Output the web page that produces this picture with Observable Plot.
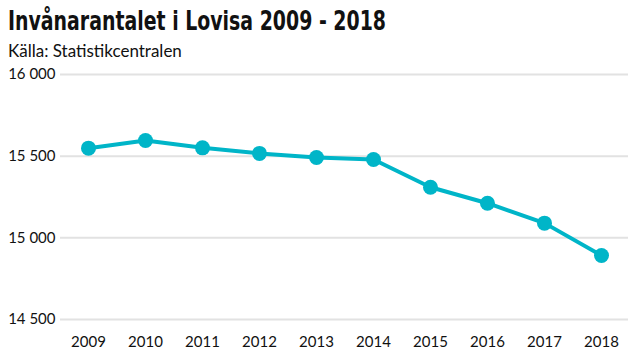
<!DOCTYPE html>
<html><head><meta charset="utf-8">
<script src="https://cdn.jsdelivr.net/npm/d3@7"></script>
<script src="https://cdn.jsdelivr.net/npm/@observablehq/plot@0.6"></script>
<style>
body{margin:0;background:#fff;width:640px;height:360px;overflow:hidden;font-family:Lato,"Open Sans",sans-serif;}
#title{position:absolute;left:8px;top:5px;font-family:"DejaVu Sans Condensed","DejaVu Sans",sans-serif;font-stretch:condensed;font-weight:bold;font-size:27px;color:#111;white-space:nowrap;transform-origin:0 0;}
#sub{position:absolute;left:8px;top:40px;font-size:17px;color:#111;}
#chart{position:absolute;left:0;top:62px;}
</style></head><body>
<div id="title">Invånarantalet i Lovisa 2009 - 2018</div>
<div id="sub">Källa: Statistikcentralen</div>
<div id="chart"></div>
<script>
const years = ["2009","2010","2011","2012","2013","2014","2015","2016","2017","2018"];
const population = [15549,15596,15551,15517,15492,15480,15310,15212,15090,14892];
const yTicks = [14500,15000,15500,16000];

const data = years.map((y,i)=>({year:y, value:population[i]}));
const fmt = d => d3.format(",")(d).replace(/,/g," ");

// fit title to the reference's width
const t = document.getElementById("title");
const w = t.getBoundingClientRect().width;
if (w > 0) t.style.transform = `scaleX(${378 / w})`;

const chart = Plot.plot({
  width:640, height:298,
  marginTop:12, marginBottom:41, marginLeft:60, marginRight:12,
  style:{fontFamily:"Lato, 'Open Sans', sans-serif", fontSize:"15px", color:"#111", background:"#fff"},
  x:{type:"point", domain:years, padding:0.48, label:null},
  y:{domain:[14500,16000], label:null},
  marks:[
    Plot.ruleY(yTicks,{stroke:"#e2e2e2", strokeWidth:2}),
    Plot.axisY(yTicks,{tickFormat:fmt, tickSize:0, tickPadding:5, fontSize:15, label:null}),
    Plot.axisX(years,{tickSize:0, tickPadding:17, fontSize:15, label:null}),
    Plot.line(data,{x:"year", y:"value", stroke:"#00b5c8", strokeWidth:4}),
    Plot.dot(data,{x:"year", y:"value", fill:"#00b5c8", r:7.5})
  ]
});
document.getElementById("chart").appendChild(chart);
</script></body></html>
